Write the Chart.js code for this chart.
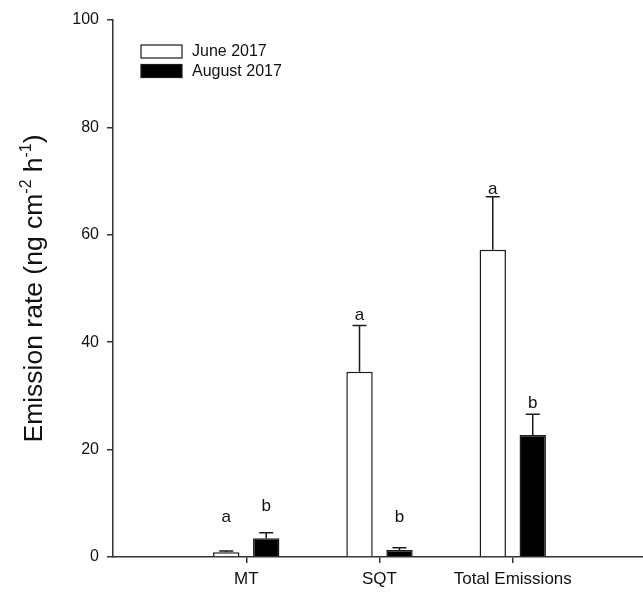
<!DOCTYPE html>
<html lang="en">

<head>
    <meta charset="UTF-8">
    <title>Emission rate</title>
    <style>
        body { margin: 0; background: #fff; overflow: hidden; }
        #wrap { width: 652px; height: 592px; }
    </style>
</head>

<body>
    <div id="wrap">
        <canvas id="myChartCanvas" width="652" height="592"></canvas>
    </div>
</body>

</html>
<script src="https://cdn.jsdelivr.net/npm/chart.js"></script>
<script>

    // dados (categorias vazias nas pontas só para o espaçamento)
    const categorias = ['', 'MT', 'SQT', 'Total Emissions', ''];
    const junho = [null, 0.9, 34.5, 57.2, null];
    const agosto = [null, 3.5, 1.3, 22.7, null];
    const erroJunho = [null, 0.2, 8.6, 9.9, null];
    const erroAgosto = [null, 1.0, 0.4, 3.9, null];
    const letrasJunho = [null, 'a', 'a', 'a', null];
    const letrasAgosto = [null, 'b', 'b', 'b', null];
    // altura (linha de base) das letras, em unidades do eixo y
    const alturaLetrasJunho = [null, 6.6, 44.1, 67.6, null];
    const alturaLetrasAgosto = [null, 8.5, 6.6, 27.7, null];
    const ticksY = [0, 20, 40, 60, 80, 100];

    const corEixo = '#333';
    const corBorda = '#1a1a1a';
    const fonte = '"Liberation Sans", Arial, sans-serif';

    // barras de erro (só para cima) e letras
    const errosELetras = {
        id: 'errosELetras',
        afterDatasetsDraw(chart) {
            const ctx = chart.ctx;
            const y = chart.scales.y;
            const erros = [erroJunho, erroAgosto];
            const letras = [letrasJunho, letrasAgosto];
            const alturas = [alturaLetrasJunho, alturaLetrasAgosto];
            ctx.save();
            chart.data.datasets.forEach((ds, d) => {
                const meta = chart.getDatasetMeta(d);
                meta.data.forEach((bar, i) => {
                    if (ds.data[i] == null) return;
                    const topo = y.getPixelForValue(ds.data[i]);
                    const fim = y.getPixelForValue(ds.data[i] + erros[d][i]);
                    ctx.strokeStyle = corBorda;
                    ctx.lineWidth = 1.5;
                    ctx.beginPath();
                    ctx.moveTo(bar.x, topo);
                    ctx.lineTo(bar.x, fim);
                    ctx.moveTo(bar.x - 7, fim);
                    ctx.lineTo(bar.x + 7, fim);
                    ctx.stroke();

                    ctx.fillStyle = '#111';
                    ctx.font = '17px ' + fonte;
                    ctx.textAlign = 'center';
                    ctx.textBaseline = 'alphabetic';
                    ctx.fillText(letras[d][i], bar.x, y.getPixelForValue(alturas[d][i]));
                });
            });
            ctx.restore();
        }
    };

    // legenda dentro da área do gráfico
    const legenda = {
        id: 'legenda',
        afterDraw(chart) {
            const ctx = chart.ctx;
            ctx.save();
            chart.data.datasets.forEach((ds, d) => {
                const x = 141, y = 45 + d * 19.5;
                ctx.fillStyle = ds.backgroundColor;
                ctx.fillRect(x, y, 41, 13);
                ctx.strokeStyle = corBorda;
                ctx.lineWidth = 1.2;
                ctx.strokeRect(x, y, 41, 13);
                ctx.fillStyle = '#111';
                ctx.font = '16px ' + fonte;
                ctx.textAlign = 'left';
                ctx.textBaseline = 'middle';
                ctx.fillText(ds.label, 192, y + 7);
            });
            ctx.restore();
        }
    };

    // título do eixo y com expoentes
    const tituloY = {
        id: 'tituloY',
        afterDraw(chart) {
            const ctx = chart.ctx;
            const area = chart.chartArea;
            const partes = [
                { t: 'Emission rate (ng cm', sup: false },
                { t: '-2', sup: true },
                { t: ' h', sup: false },
                { t: '-1', sup: true },
                { t: ')', sup: false }
            ];
            const tam = 26.5;
            let total = 0;
            partes.forEach(p => {
                ctx.font = (p.sup ? tam * 0.6 : tam) + 'px ' + fonte;
                p.w = ctx.measureText(p.t).width;
                total += p.w;
            });
            ctx.save();
            ctx.translate(42, (area.top + area.bottom) / 2);
            ctx.rotate(-Math.PI / 2);
            ctx.fillStyle = '#111';
            ctx.textBaseline = 'alphabetic';
            ctx.textAlign = 'left';
            let x = -total / 2;
            partes.forEach(p => {
                ctx.font = (p.sup ? tam * 0.6 : tam) + 'px ' + fonte;
                ctx.fillText(p.t, x, p.sup ? -tam * 0.42 : 0);
                x += p.w;
            });
            ctx.restore();
        }
    };

    const dados = {
        labels: categorias,
        datasets: [{
            label: 'June 2017',
            data: junho,
            backgroundColor: '#fff',
            borderColor: corBorda,
            borderWidth: 1.5,
            categoryPercentage: 0.6,
            barPercentage: 0.66
        }, {
            label: 'August 2017',
            data: agosto,
            backgroundColor: '#000',
            borderColor: corBorda,
            borderWidth: 1.5,
            categoryPercentage: 0.6,
            barPercentage: 0.66
        }]
    };

    const config = {
        type: 'bar',
        data: dados,
        options: {
            responsive: false,
            animation: false,
            devicePixelRatio: 1,
            layout: { padding: { left: 0, right: 1, top: 20, bottom: 0 } },
            plugins: {
                legend: { display: false },
                tooltip: { enabled: false }
            },
            scales: {
                x: {
                    offset: false,
                    grid: {
                        offset: false, drawOnChartArea: false, tickLength: 6, lineWidth: 1.5,
                        tickColor: c => categorias[c.index] ? corEixo : 'rgba(0,0,0,0)'
                    },
                    border: { display: true, color: corEixo, width: 1.5 },
                    ticks: { color: '#111', font: { size: 17, family: fonte }, padding: 6, maxRotation: 0, autoSkip: false },
                    afterFit(scale) { scale.height = 35; }
                },
                y: {
                    min: 0,
                    max: 100,
                    afterBuildTicks(scale) { scale.ticks = ticksY.map(v => ({ value: v })); },
                    grid: { drawOnChartArea: false, tickLength: 6, color: corEixo, lineWidth: 1.5 },
                    border: { display: true, color: corEixo, width: 1.5 },
                    ticks: { color: '#111', font: { size: 16, family: fonte }, padding: 8 },
                    afterFit(scale) { scale.width = 113; }
                }
            }
        },
        plugins: [errosELetras, legenda, tituloY]
    };

    let myChart = new Chart(document.getElementById('myChartCanvas'), config);
</script>
